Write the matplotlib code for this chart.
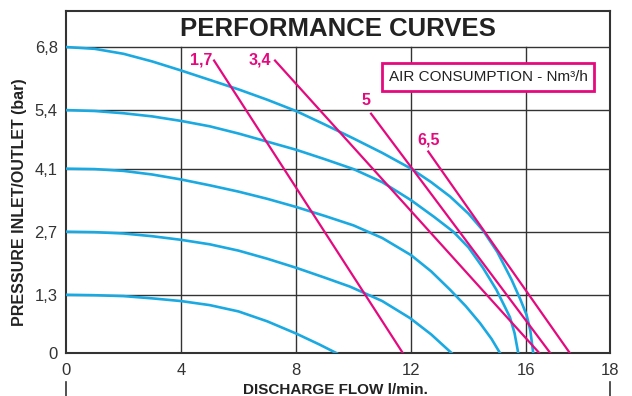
import matplotlib.pyplot as plt
from matplotlib import font_manager

plt.rcParams['font.family'] = ['Liberation Sans', 'DejaVu Sans']

# Pump curves: flow (l/min) vs pressure (bar), one per inlet pressure
flow_68 = [0, 1, 2, 3, 4, 5, 6, 7, 8, 9, 10, 11, 12, 12.7, 13.36, 14, 14.5, 15, 15.5, 15.8, 16.02, 16.15, 16.25]
pres_68 = [6.8, 6.76, 6.65, 6.48, 6.28, 6.07, 5.86, 5.63, 5.38, 5.08, 4.77, 4.45, 4.1, 3.8, 3.48, 3.1, 2.73, 2.25, 1.63, 1.2, 0.85, 0.5, 0]

flow_54 = [0, 1, 2, 3, 4, 5, 6, 7, 8, 9, 10, 11, 12, 12.8, 13.47, 14, 14.5, 14.97, 15.25, 15.44, 15.6, 15.73]
pres_54 = [5.4, 5.38, 5.33, 5.26, 5.16, 5.04, 4.88, 4.7, 4.52, 4.31, 4.09, 3.8, 3.4, 3.03, 2.7, 2.35, 1.9, 1.41, 1.05, 0.8, 0.45, 0]

flow_41 = [0, 1, 2, 3, 4, 5, 6, 7, 8, 9, 10, 11, 12, 12.7, 13.36, 13.9, 14.4, 14.8, 15.1]
pres_41 = [4.1, 4.09, 4.05, 3.97, 3.86, 3.73, 3.59, 3.43, 3.25, 3.05, 2.84, 2.56, 2.18, 1.82, 1.41, 1.05, 0.67, 0.32, 0]

flow_27 = [0, 1, 2, 3, 4, 5, 6, 7, 8, 9, 9.88, 11, 11.97, 12.7, 13.42]
pres_27 = [2.7, 2.69, 2.66, 2.6, 2.52, 2.42, 2.28, 2.1, 1.9, 1.68, 1.48, 1.16, 0.78, 0.42, 0]

flow_13 = [0, 1, 2, 3, 4, 5, 6, 7, 8, 8.8, 9.42]
pres_13 = [1.3, 1.29, 1.27, 1.22, 1.16, 1.07, 0.93, 0.71, 0.44, 0.2, 0]

pump_flows = [flow_68, flow_54, flow_41, flow_27, flow_13]
pump_press = [pres_68, pres_54, pres_41, pres_27, pres_13]

# Air consumption lines (Nm3/h): start point and flow at zero pressure
air_labels = ['1,7', '3,4', '5', '6,5']
air_x0 = [5.15, 7.27, 10.61, 12.6]
air_y0 = [6.5, 6.5, 5.32, 4.48]
air_x1 = [11.72, 16.47, 16.85, 17.53]

y_ticks = [0, 1.3, 2.7, 4.1, 5.4, 6.8]
x_ticks = [0, 4, 8, 12, 16]
x_right = 18.92   # the original's last interval (16-18) is drawn wider

blue = '#1aa9e1'
magenta = '#e5097f'
dark = '#333333'

# narrow bold face for the title if there is one
names = {f.name for f in font_manager.fontManager.ttflist}
if 'Liberation Sans Narrow' in names:
    title_font, title_size = 'Liberation Sans Narrow', 22
else:
    title_font, title_size = 'Liberation Sans', 18.5

fig = plt.figure(figsize=(6.32, 3.96), dpi=100)
ax = fig.add_axes([0.1044, 0.1078, 0.8608, 0.8644])
ax.set_xlim(0, x_right)
ax.set_ylim(0, 7.6)

# grid: verticals stop at the top pressure line, horizontals run full width
for xv in x_ticks[1:]:
    ax.plot([xv, xv], [0, y_ticks[-1]], color=dark, lw=1.0, zorder=1)
for yv in y_ticks[1:]:
    ax.plot([0, x_right], [yv, yv], color=dark, lw=1.0, zorder=1)

for fx, py in zip(pump_flows, pump_press):
    ax.plot(fx, py, color=blue, lw=1.9, zorder=3, solid_joinstyle='round')

for i in range(len(air_labels)):
    ax.plot([air_x0[i], air_x1[i]], [air_y0[i], 0], color=magenta, lw=1.6, zorder=4)

ax.annotate(air_labels[0], (air_x0[0], air_y0[0]), xytext=(-1.5, 0.5), textcoords='offset points',
            ha='right', va='center', color=magenta, fontsize=11.5, fontweight='bold')
ax.annotate(air_labels[1], (air_x0[1], air_y0[1]), xytext=(-3, 0.5), textcoords='offset points',
            ha='right', va='center', color=magenta, fontsize=11.5, fontweight='bold')
ax.annotate(air_labels[2], (air_x0[2], air_y0[2]), xytext=(-4, 9.5), textcoords='offset points',
            ha='center', va='center', color=magenta, fontsize=11.5, fontweight='bold')
ax.annotate(air_labels[3], (air_x0[3], air_y0[3]), xytext=(0, 8.5), textcoords='offset points',
            ha='center', va='center', color=magenta, fontsize=11.5, fontweight='bold')

ax.text(0.776, 0.808, 'AIR CONSUMPTION - Nm³/h', transform=ax.transAxes,
        ha='center', va='center', fontsize=11, color='#222222',
        bbox=dict(boxstyle='square,pad=0.45', fc='white', ec=magenta, lw=2))

ax.text(0.5, (y_ticks[-1] + 7.6) / 2, 'PERFORMANCE CURVES', transform=ax.get_yaxis_transform(),
        ha='center', va='center', fontsize=title_size, family=title_font,
        fontweight='bold', color='#222222')

ax.set_xticks(x_ticks + [x_right])
ax.set_xticklabels([str(v) for v in x_ticks] + ['18'])
ax.set_yticks(y_ticks)
ax.set_yticklabels(['0'] + [str(v).replace('.', ',') for v in y_ticks[1:]])
ax.tick_params(length=0, labelsize=12, labelcolor=dark)
ax.tick_params(axis='x', pad=7)
ax.tick_params(axis='y', pad=6)

for s in ax.spines.values():
    s.set_color(dark)
    s.set_linewidth(1.5)

# small marks below the axis ends
for xa in [0, 1]:
    ax.plot([xa, xa], [-0.084, -0.13], transform=ax.transAxes, color=dark, lw=1.2, clip_on=False)

fig.text(20 / 632, 1 - 202 / 396, 'PRESSURE INLET/OUTLET (bar)', rotation=90,
         ha='center', va='center', fontsize=11.5, fontweight='bold', color='#222222')
fig.text(0.384, 0.004, 'DISCHARGE FLOW l/min.', ha='left', va='baseline',
         fontsize=11, fontweight='bold', color='#222222')

fig.savefig('out.png', dpi=100)
